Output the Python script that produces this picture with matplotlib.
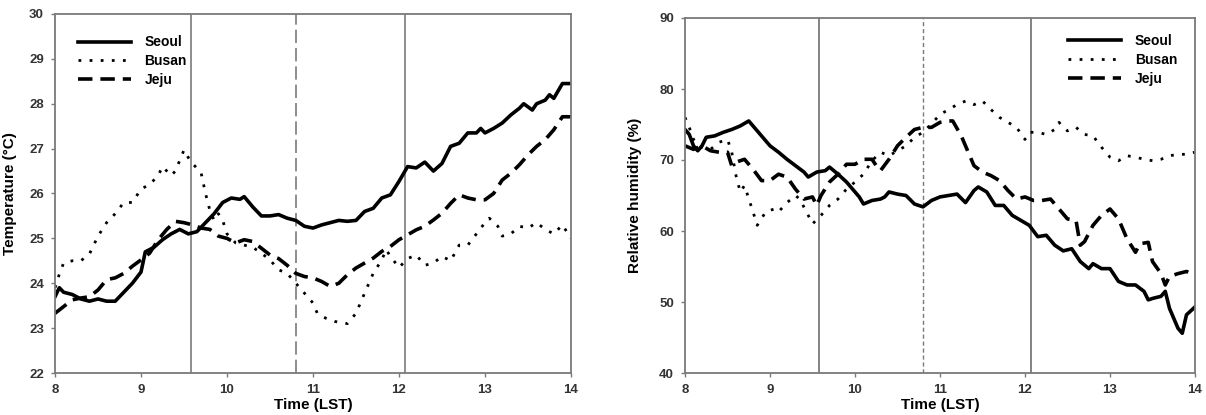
import matplotlib
matplotlib.use("Agg")
import matplotlib.pyplot as plt

plt.rcParams['font.family'] = ['Liberation Sans', 'DejaVu Sans']
plt.rcParams['font.weight'] = 'bold'

# ---- temperature panel ----
t_seoul = [8.0, 8.05, 8.1, 8.2, 8.3, 8.4, 8.5, 8.6, 8.7, 8.8, 8.9, 9.0, 9.05, 9.15, 9.25, 9.35,
           9.45, 9.55, 9.65, 9.75, 9.85, 9.95, 10.05, 10.15, 10.2, 10.3, 10.4, 10.5, 10.6, 10.7,
           10.8, 10.9, 11.0, 11.1, 11.2, 11.3, 11.4, 11.5, 11.6, 11.7, 11.8, 11.9, 12.0, 12.1,
           12.2, 12.3, 12.4, 12.5, 12.6, 12.7, 12.8, 12.9, 12.95, 13.0, 13.1, 13.2, 13.3, 13.4,
           13.45, 13.55, 13.6, 13.7, 13.75, 13.8, 13.9, 14.0]
temp_seoul = [23.7, 23.9, 23.8, 23.75, 23.65, 23.6, 23.65, 23.6, 23.6, 23.8, 24.0, 24.25, 24.7,
              24.8, 24.97, 25.1, 25.2, 25.1, 25.15, 25.35, 25.55, 25.8, 25.9, 25.87, 25.93, 25.7,
              25.5, 25.5, 25.53, 25.45, 25.4, 25.27, 25.23, 25.3, 25.35, 25.4, 25.38, 25.4, 25.6,
              25.67, 25.9, 25.97, 26.27, 26.6, 26.57, 26.7, 26.5, 26.67, 27.05, 27.12, 27.35,
              27.35, 27.45, 27.35, 27.45, 27.57, 27.75, 27.9, 28.0, 27.86, 28.0, 28.08, 28.2,
              28.12, 28.45, 28.45]

t_busan = [8.0, 8.05, 8.1, 8.2, 8.3, 8.4, 8.5, 8.6, 8.7, 8.8, 8.9, 9.0, 9.1, 9.2, 9.25, 9.35, 9.4,
           9.5, 9.55, 9.6, 9.7, 9.75, 9.8, 9.85, 9.9, 9.95, 10.0, 10.1, 10.2, 10.3, 10.4, 10.5,
           10.6, 10.7, 10.8, 10.9, 11.0, 11.05, 11.15, 11.25, 11.4, 11.5, 11.6, 11.7, 11.8, 11.85,
           11.9, 12.0, 12.1, 12.2, 12.3, 12.4, 12.5, 12.6, 12.7, 12.8, 12.9, 13.0, 13.05, 13.15,
           13.2, 13.3, 13.4, 13.5, 13.6, 13.7, 13.8, 13.9, 13.95, 14.0]
temp_busan = [23.9, 24.2, 24.45, 24.5, 24.5, 24.65, 25.05, 25.35, 25.55, 25.8, 25.8, 26.1, 26.2,
              26.4, 26.6, 26.4, 26.5, 26.97, 26.8, 26.67, 26.45, 26.0, 25.63, 25.4, 25.55, 25.4,
              25.1, 24.9, 24.85, 24.8, 24.67, 24.52, 24.3, 24.22, 24.0, 23.78, 23.56, 23.33,
              23.22, 23.15, 23.1, 23.33, 23.78, 24.22, 24.52, 24.75, 24.6, 24.35, 24.55, 24.63,
              24.4, 24.45, 24.6, 24.5, 24.85, 24.85, 25.1, 25.35, 25.45, 25.27, 25.05, 25.1,
              25.27, 25.23, 25.35, 25.2, 25.1, 25.3, 25.15, 25.0]

t_jeju = [8.0, 8.1, 8.2, 8.3, 8.4, 8.5, 8.6, 8.7, 8.8, 8.9, 9.0, 9.1, 9.2, 9.3, 9.4, 9.5, 9.6, 9.7,
          9.8, 9.9, 10.0, 10.1, 10.2, 10.3, 10.4, 10.5, 10.6, 10.7, 10.8, 10.9, 11.0, 11.1, 11.2,
          11.3, 11.4, 11.5, 11.6, 11.7, 11.8, 11.9, 12.0, 12.1, 12.2, 12.3, 12.4, 12.5, 12.6, 12.7,
          12.8, 12.9, 13.0, 13.1, 13.2, 13.3, 13.4, 13.5, 13.6, 13.7, 13.8, 13.9, 14.0]
temp_jeju = [23.33, 23.48, 23.63, 23.67, 23.7, 23.85, 24.08, 24.12, 24.22, 24.38, 24.52, 24.67,
             24.97, 25.2, 25.38, 25.35, 25.3, 25.23, 25.2, 25.05, 25.0, 24.9, 24.97, 24.93, 24.78,
             24.63, 24.55, 24.4, 24.22, 24.15, 24.12, 24.04, 23.93, 24.0, 24.19, 24.34, 24.45,
             24.56, 24.71, 24.82, 24.97, 25.08, 25.19, 25.27, 25.41, 25.56, 25.78, 25.97, 25.9,
             25.86, 25.86, 26.0, 26.3, 26.45, 26.64, 26.86, 27.05, 27.2, 27.42, 27.71, 27.71]

# ---- humidity panel ----
h_seoul = [8.0, 8.05, 8.1, 8.15, 8.2, 8.25, 8.35, 8.45, 8.55, 8.65, 8.75, 8.8, 8.9, 9.0, 9.1, 9.2,
           9.3, 9.4, 9.45, 9.55, 9.65, 9.7, 9.8, 9.9, 10.0, 10.05, 10.1, 10.2, 10.3, 10.35, 10.4,
           10.5, 10.6, 10.7, 10.8, 10.9, 11.0, 11.1, 11.2, 11.3, 11.4, 11.45, 11.55, 11.65, 11.75,
           11.85, 11.95, 12.05, 12.15, 12.25, 12.35, 12.45, 12.55, 12.65, 12.75, 12.8, 12.9, 13.0,
           13.1, 13.2, 13.3, 13.4, 13.45, 13.5, 13.6, 13.65, 13.7, 13.8, 13.85, 13.9, 14.0]
rh_seoul = [74.3, 73.6, 72.0, 71.3, 72.0, 73.2, 73.4, 73.9, 74.3, 74.8, 75.5, 74.8, 73.4, 72.0,
            71.1, 70.1, 69.2, 68.3, 67.6, 68.3, 68.5, 69.0, 68.0, 66.9, 65.5, 64.8, 63.8, 64.3,
            64.5, 64.8, 65.5, 65.2, 65.0, 63.8, 63.4, 64.3, 64.8, 65.0, 65.2, 64.0, 65.7, 66.2,
            65.5, 63.6, 63.6, 62.2, 61.5, 60.8, 59.2, 59.4, 58.0, 57.2, 57.5, 55.7, 54.7, 55.4,
            54.7, 54.7, 52.9, 52.4, 52.4, 51.5, 50.3, 50.5, 50.8, 51.5, 49.1, 46.3, 45.6, 48.2,
            49.3]

h_busan = [8.0, 8.05, 8.1, 8.2, 8.3, 8.4, 8.5, 8.55, 8.6, 8.65, 8.7, 8.8, 8.85, 8.95, 9.05, 9.1,
           9.2, 9.3, 9.35, 9.45, 9.5, 9.6, 9.7, 9.8, 9.9, 10.0, 10.1, 10.2, 10.3, 10.4, 10.5, 10.6,
           10.7, 10.8, 10.9, 11.0, 11.1, 11.2, 11.3, 11.4, 11.5, 11.6, 11.7, 11.8, 11.9, 12.0,
           12.05, 12.15, 12.25, 12.35, 12.4, 12.45, 12.5, 12.6, 12.7, 12.8, 12.9, 13.0, 13.1, 13.2,
           13.3, 13.4, 13.5, 13.6, 13.7, 13.8, 13.9, 14.0]
rh_busan = [76.0, 74.6, 72.9, 71.8, 71.5, 72.5, 72.9, 71.1, 67.8, 65.5, 66.4, 62.7, 60.8, 62.7,
            63.1, 62.7, 64.0, 65.0, 64.5, 62.2, 61.0, 62.2, 63.6, 64.5, 65.9, 66.9, 68.0, 69.9,
            71.1, 70.6, 71.3, 72.0, 73.2, 73.9, 75.1, 76.4, 77.1, 77.8, 78.3, 77.8, 78.3, 77.1,
            76.0, 75.3, 74.6, 72.9, 73.9, 73.9, 73.6, 74.3, 75.3, 74.6, 74.1, 74.6, 73.6, 73.4,
            71.8, 70.4, 69.9, 70.6, 70.4, 70.1, 69.9, 70.1, 70.6, 70.8, 70.8, 71.1]

h_jeju = [8.0, 8.1, 8.2, 8.3, 8.4, 8.5, 8.55, 8.6, 8.7, 8.8, 8.9, 9.0, 9.1, 9.2, 9.3, 9.4, 9.5,
          9.55, 9.6, 9.7, 9.8, 9.9, 10.0, 10.1, 10.2, 10.25, 10.3, 10.4, 10.5, 10.6, 10.7, 10.8,
          10.9, 11.0, 11.1, 11.15, 11.25, 11.3, 11.4, 11.5, 11.6, 11.7, 11.8, 11.9, 12.0, 12.1,
          12.2, 12.3, 12.4, 12.5, 12.6, 12.65, 12.7, 12.8, 12.9, 13.0, 13.1, 13.2, 13.3, 13.35,
          13.45, 13.5, 13.6, 13.65, 13.7, 13.8, 13.9, 14.0]
rh_jeju = [72.0, 71.5, 72.0, 71.3, 71.1, 71.1, 69.2, 69.7, 70.1, 68.7, 67.1, 67.1, 68.0, 67.6,
           65.9, 64.5, 64.8, 63.6, 65.0, 66.9, 68.0, 69.4, 69.4, 70.1, 70.1, 69.2, 68.5, 70.1,
           72.0, 73.2, 74.3, 74.6, 74.6, 75.3, 75.5, 75.5, 73.4, 72.0, 69.2, 68.3, 67.8, 67.1,
           65.7, 64.5, 64.8, 64.3, 64.3, 64.5, 63.1, 61.7, 61.5, 58.0, 58.5, 60.8, 62.2, 63.1,
           61.7, 58.9, 57.0, 58.2, 58.4, 55.7, 54.0, 52.4, 53.6, 54.0, 54.3, 53.8]

vlines = [9.58, 10.8, 12.07]
x_ticks = [8, 9, 10, 11, 12, 13, 14]

fig = plt.figure(figsize=(12.06, 4.15), dpi=100)
ax1 = fig.add_axes([55 / 1206, 42 / 415, 516 / 1206, 359 / 415])
ax2 = fig.add_axes([685 / 1206, 42 / 415, 510 / 1206, 355 / 415])

gray = '#7a7a7a'


def style(ax):
    for s in ax.spines.values():
        s.set_color(gray)
        s.set_linewidth(1.3)
    ax.tick_params(direction='out', length=3, width=1, color=gray, labelsize=9.5,
                   pad=5)
    ax.set_xlim(8, 14)
    ax.set_xticks(x_ticks)
    ax.set_xlabel('Time (LST)', fontsize=11, fontweight='bold', labelpad=1)
    for lab in ax.get_xticklabels() + ax.get_yticklabels():
        lab.set_fontweight('bold')
        lab.set_color('#333333')


# left
ax1.axvline(vlines[0], color=gray, lw=1.2)
ax1.axvline(vlines[1], color=gray, lw=1.2, ls=(0, (8, 3)))
ax1.axvline(vlines[2], color=gray, lw=1.2)
ax1.plot(t_seoul, temp_seoul, color='black', lw=2.6, label='Seoul')
ax1.plot(t_busan, temp_busan, color='black', lw=2.0, ls=(0, (1, 3)), label='Busan')
ax1.plot(t_jeju, temp_jeju, color='black', lw=2.6, ls=(0, (4, 2.2)), label='Jeju')
ax1.set_ylim(22, 30)
ax1.set_yticks(range(22, 31))
style(ax1)
ax1.set_ylabel('Temperature (\u00b0C)', fontsize=11, fontweight='bold')
ax1.yaxis.set_label_coords(-0.073, 0.5)
ax1.legend(loc='upper left', frameon=False, handlelength=3.8,
           bbox_to_anchor=(0.02, 0.975), labelspacing=0.35, handletextpad=1.0,
           prop={'weight': 'bold', 'size': 10})

# right
ax2.axvline(vlines[0], color=gray, lw=1.3)
ax2.axvline(vlines[1], color=gray, lw=1.0, ls=(0, (3, 2)))
ax2.axvline(vlines[2], color=gray, lw=1.3)
ax2.plot(h_seoul, rh_seoul, color='black', lw=2.6, label='Seoul')
ax2.plot(h_busan, rh_busan, color='black', lw=2.0, ls=(0, (1, 3)), label='Busan')
ax2.plot(h_jeju, rh_jeju, color='black', lw=2.6, ls=(0, (4, 2.2)), label='Jeju')
ax2.set_ylim(40, 90)
ax2.set_yticks(range(40, 91, 10))
style(ax2)
ax2.set_ylabel('Relative humidity (%)', fontsize=11, fontweight='bold')
ax2.yaxis.set_label_coords(-0.084, 0.5)
ax2.legend(loc='upper right', frameon=False, handlelength=3.8,
           bbox_to_anchor=(0.99, 0.99), labelspacing=0.35, handletextpad=1.0,
           prop={'weight': 'bold', 'size': 10})

fig.savefig('out.png', dpi=100)
